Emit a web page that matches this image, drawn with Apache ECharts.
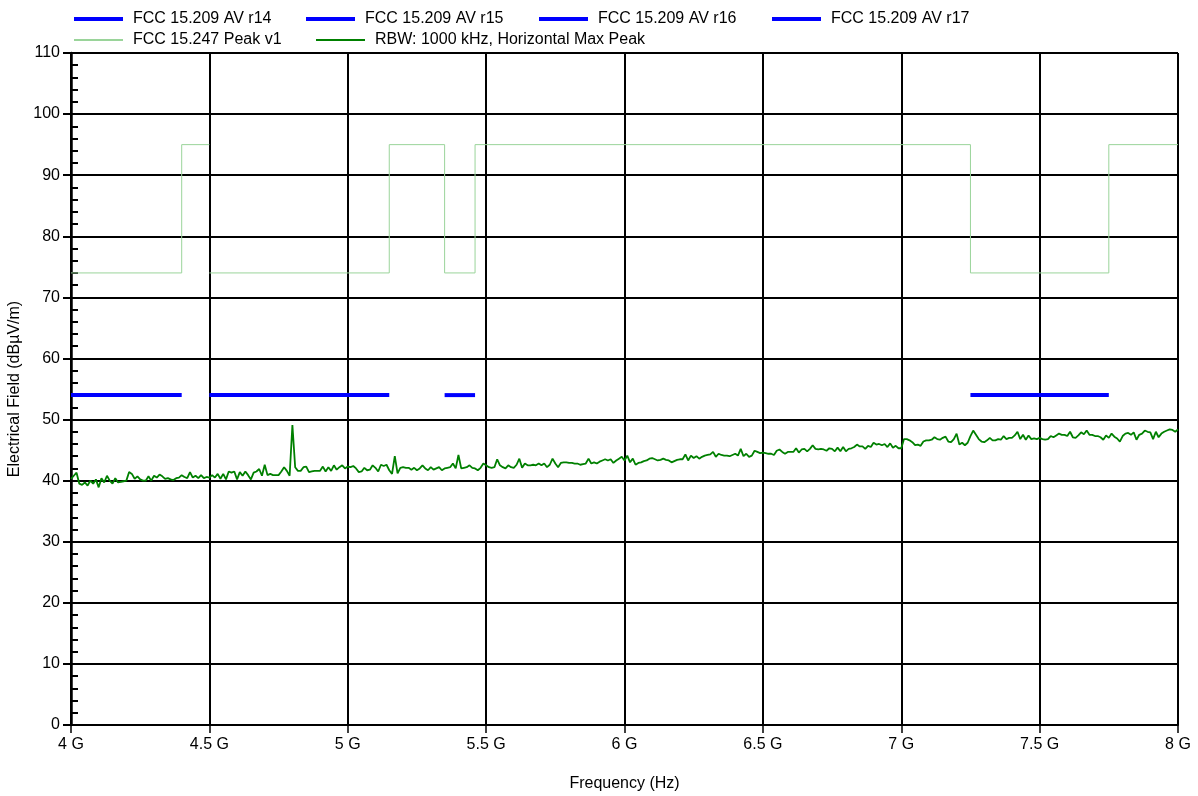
<!DOCTYPE html>
<html><head><meta charset="utf-8">
<script src="https://cdn.jsdelivr.net/npm/echarts@6/dist/echarts.min.js"></script>
<style>html,body{margin:0;padding:0;background:#fff}#c{width:1198px;height:796px}</style>
</head><body><div id="c"></div><script>
// ---- Data ----
var yTicks = [0, 10, 20, 30, 40, 50, 60, 70, 80, 90, 100, 110];
var xTicksGHz = [4, 4.5, 5, 5.5, 6, 6.5, 7, 7.5, 8];
var seriesNames = ['FCC 15.209 AV r14', 'FCC 15.209 AV r15', 'FCC 15.209 AV r16', 'FCC 15.209 AV r17',
                   'FCC 15.247 Peak v1', 'RBW: 1000 kHz, Horizontal Max Peak'];
var avLevel = 54;
var avR14 = [4.0, 4.4];
var avR15 = [4.5, 5.15];
var avR16 = [5.35, 5.46];
var avR17 = [7.25, 7.75];
var peakX = [4.0, 4.4, 4.4, 4.5, 4.5, 4.5, 5.15, 5.15, 5.35, 5.35, 5.46, 5.46, 7.25, 7.25, 7.75, 7.75, 8.0];
var peakY = [74, 74, 95, 95, '-', 74, 74, 95, 95, 74, 74, 95, 95, 74, 74, 95, 95];
var rbwStartGHz = 4.0;
var rbwStepGHz = 0.01;
var rbw4to5 = [
40.3, 40.8, 41.3, 39.5, 39.3, 39.7, 39.2, 40.0, 39.5, 40.2,
38.9, 40.4, 39.7, 40.8, 40.0, 39.5, 40.4, 39.7, 39.8, 39.9,
40.0, 41.4, 41.1, 40.3, 40.7, 40.2, 40.0, 40.0, 40.7, 40.0,
40.8, 40.5, 41.0, 40.7, 40.3, 40.4, 40.2, 40.1, 40.4, 40.5,
40.9, 40.6, 40.4, 41.4, 40.5, 40.8, 40.4, 40.9, 40.4, 40.6,
40.5, 40.9, 40.5, 41.1, 40.3, 41.1, 40.2, 41.5, 41.3, 41.5,
40.2, 41.4, 40.8, 41.5, 40.9, 40.2, 41.3, 41.5, 41.9, 40.8,
42.6, 40.9, 41.1, 40.9, 40.9, 40.9, 41.5, 42.2, 41.6, 40.8,
49.1, 42.2, 41.6, 41.6, 42.2, 42.3, 41.4, 41.5, 41.6, 41.6,
41.6, 42.3, 41.5, 42.2, 41.6, 42.5, 41.8, 42.2, 42.5, 42.0,
42.3];
var rbw5to6 = [
42.2, 42.4, 42.0, 41.4, 41.5, 42.1, 41.7, 41.8, 42.5, 42.1,
41.5, 42.6, 42.4, 42.6, 41.7, 41.1, 44.0, 41.2, 42.1, 42.2,
42.1, 42.1, 41.8, 42.1, 41.7, 42.0, 42.5, 42.0, 41.7, 42.2,
41.8, 42.0, 42.2, 41.7, 42.0, 42.1, 42.2, 42.8, 42.0, 44.2,
42.0, 42.1, 42.2, 42.5, 42.1, 42.0, 41.7, 42.1, 42.8, 42.5,
42.2, 42.1, 42.2, 43.5, 42.5, 42.2, 42.0, 42.5, 42.2, 42.1,
42.6, 43.6, 42.1, 42.8, 42.5, 42.5, 42.6, 42.5, 42.8, 42.5,
42.8, 42.2, 42.6, 43.6, 42.8, 42.2, 42.9, 43.0, 43.0, 42.9,
42.9, 42.8, 42.8, 42.6, 42.7, 42.8, 43.6, 42.8, 43.0, 42.8,
43.1, 43.3, 43.5, 43.3, 43.5, 42.9, 43.3, 43.6, 43.9, 43.3];
var rbw6to7 = [
44.1, 43.0, 43.6, 42.6, 42.9, 43.0, 43.2, 43.3, 43.6, 43.7,
43.5, 43.3, 43.4, 43.6, 43.4, 43.3, 43.0, 43.2, 43.4, 43.5,
43.5, 44.3, 43.3, 44.1, 43.7, 44.0, 43.6, 43.9, 44.1, 44.2,
44.3, 44.7, 43.9, 44.4, 44.2, 44.1, 44.1, 44.0, 44.2, 44.4,
44.1, 45.2, 44.0, 44.4, 43.9, 44.1, 44.9, 44.7, 44.5, 44.6,
44.5, 44.4, 44.4, 44.2, 44.9, 45.1, 44.7, 44.4, 44.7, 44.7,
44.7, 45.3, 44.6, 45.1, 45.2, 44.8, 45.2, 45.8, 45.2, 45.1,
45.2, 45.1, 44.9, 45.3, 45.2, 44.8, 45.4, 44.8, 45.5, 44.8,
45.2, 45.3, 45.5, 45.9, 45.6, 45.6, 45.2, 45.7, 45.5, 46.2,
45.9, 46.0, 45.8, 46.0, 45.5, 46.1, 45.4, 45.7, 45.3, 45.3];
var rbw7to8 = [
46.8, 46.8, 46.6, 46.3, 45.8, 45.9, 45.7, 46.4, 46.6, 46.6,
46.7, 47.1, 46.8, 46.7, 47.0, 47.2, 46.4, 46.3, 46.8, 47.7,
45.9, 46.2, 45.8, 46.2, 47.3, 48.2, 47.5, 46.8, 46.4, 46.3,
46.6, 47.0, 46.6, 46.6, 46.8, 46.7, 47.3, 46.8, 47.0, 47.0,
47.4, 48.0, 46.8, 47.5, 46.7, 47.4, 46.8, 46.9, 46.8, 47.0,
46.8, 46.7, 46.8, 47.3, 47.1, 47.4, 47.7, 47.5, 47.5, 47.3,
48.0, 47.1, 47.0, 47.4, 47.9, 47.6, 48.2, 47.5, 47.5, 47.3,
47.3, 47.1, 46.7, 47.4, 47.0, 47.7, 47.2, 46.9, 46.4, 47.3,
47.7, 47.8, 47.5, 47.9, 46.7, 47.5, 47.7, 48.2, 48.0, 47.9,
46.8, 48.0, 47.1, 47.7, 48.0, 48.2, 48.4, 48.3, 48.0, 48.4];

// ---- Build ----
var FONT = 'Liberation Sans, Arial, sans-serif';
var rbwLevels = rbw4to5.concat(rbw5to6, rbw6to7, rbw7to8);
var rbwData = rbwLevels.map(function (v, i) { return [+(rbwStartGHz + i * rbwStepGHz).toFixed(4), v]; });
function seg(r) { return [[r[0], avLevel], [r[1], avLevel]]; }
var peakData = peakX.map(function (x, i) { return [x, peakY[i]]; });

var BLUE = '#0000ff', PEAK = '#9ad49a', GREEN = '#008000';
function avSeries(name, r) {
  return { name: name, type: 'line', data: seg(r), symbol: 'none', silent: true,
           lineStyle: { color: BLUE, width: 4 }, itemStyle: { color: BLUE }, z: 3 };
}
// legend row centres at y=17 and y=38
var legendPos = [[74, 19], [306, 19], [539, 19], [772, 19], [74, 40], [316, 40]];
var legendThick = [4, 4, 4, 4, 2, 2];
var legends = seriesNames.map(function (n, i) {
  var h = legendThick[i];
  return { data: [n], left: legendPos[i][0], top: legendPos[i][1] - 9, padding: 0,
           icon: 'rect', itemWidth: 49, itemHeight: h, selectedMode: false,
           height: 18,
           textStyle: { fontSize: 16, color: '#000', fontFamily: FONT, padding: [0, 0, 0, 5],
                        lineHeight: 18 } };
});

var chart = echarts.init(document.getElementById('c'), null, { renderer: 'canvas' });
chart.setOption({
  animation: false,
  backgroundColor: '#fff',
  legend: legends,
  grid: { left: 71, right: 20, top: 53, bottom: 71, containLabel: false, outerBoundsMode: 'none' },
  xAxis: {
    type: 'value', min: xTicksGHz[0], max: xTicksGHz[xTicksGHz.length - 1], interval: 0.5,
    name: 'Frequency (Hz)', nameLocation: 'middle', nameGap: 51,
    nameTextStyle: { fontSize: 16, color: '#000', fontFamily: FONT },
    axisLine: { show: true, onZero: false, lineStyle: { color: '#000', width: 2 } },
    axisTick: { show: true, length: 8, lineStyle: { color: '#000', width: 1.5 } },
    axisLabel: { fontSize: 16, color: '#000', fontFamily: FONT, margin: 12,
                 formatter: function (v) { return v + ' G'; } },
    splitLine: { show: true, lineStyle: { color: '#000', width: 2 } }
  },
  yAxis: [{
    type: 'value', min: yTicks[0], max: yTicks[yTicks.length - 1], interval: 10, position: 'left',
    name: 'Electrical Field (dBµV/m)', nameLocation: 'middle', nameGap: 45, nameRotate: 90,
    nameTextStyle: { fontSize: 16, color: '#000', fontFamily: FONT },
    axisLine: { show: true, lineStyle: { color: '#000', width: 2.5 } },
    axisTick: { show: true, length: 8, lineStyle: { color: '#000', width: 2 } },
    axisLabel: { fontSize: 16, color: '#000', fontFamily: FONT, margin: 11 },
    splitLine: { show: true, lineStyle: { color: '#000', width: 2 } }
  }, {
    type: 'value', min: yTicks[0], max: yTicks[yTicks.length - 1], interval: 10, position: 'left', offset: 0,
    axisLine: { show: false },
    axisTick: { show: false, inside: true },
    minorTick: { show: true, splitNumber: 5, length: 7, lineStyle: { color: '#000', width: 2 } },
    axisLabel: { show: false },
    splitLine: { show: false }
  }],
  series: [
    avSeries(seriesNames[0], avR14),
    avSeries(seriesNames[1], avR15),
    avSeries(seriesNames[2], avR16),
    avSeries(seriesNames[3], avR17),
    { name: seriesNames[4], type: 'line', data: peakData, symbol: 'none', silent: true, connectNulls: false,
      lineStyle: { color: PEAK, width: 1 }, itemStyle: { color: PEAK }, z: 2 },
    { name: seriesNames[5], type: 'line', data: rbwData, symbol: 'none', silent: true,
      lineStyle: { color: GREEN, width: 1.8 }, itemStyle: { color: GREEN }, z: 4 }
  ]
});
</script></body></html>
